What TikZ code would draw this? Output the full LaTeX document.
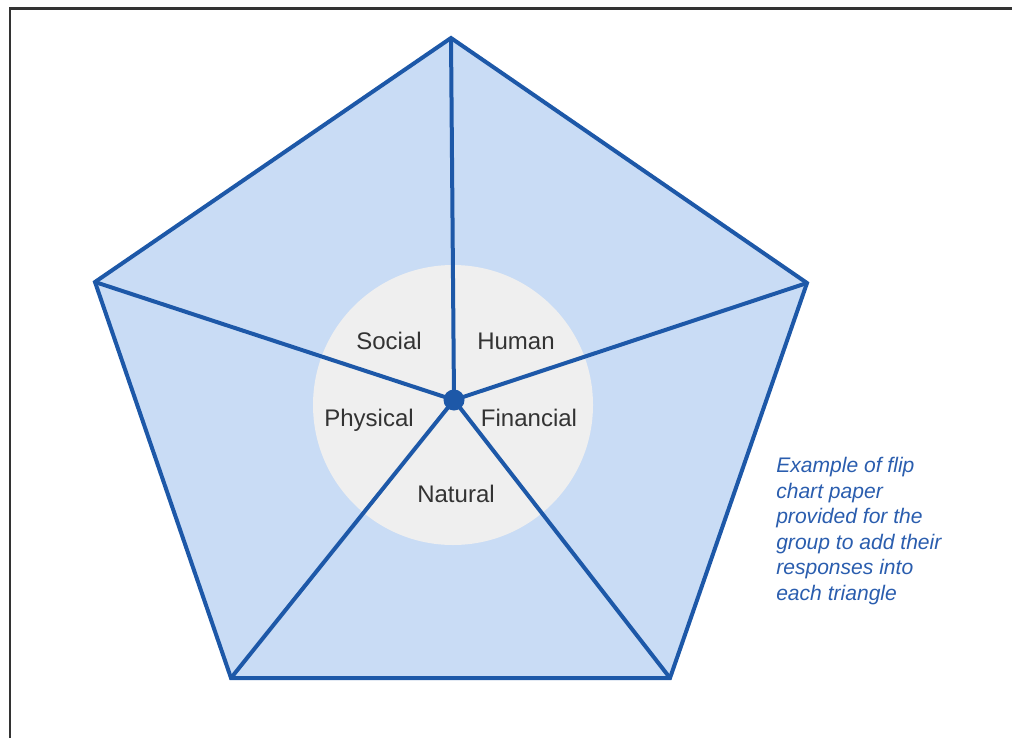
\documentclass[tikz,border=0pt]{standalone}
\usepackage{fontspec}
\setmainfont{Liberation Sans}
\definecolor{pfill}{HTML}{C9DCF5}
\definecolor{pline}{HTML}{1D58A8}
\definecolor{cfill}{HTML}{EFEFEF}
\definecolor{tdark}{HTML}{333333}
\definecolor{frame}{HTML}{333333}
\definecolor{note}{HTML}{2A5DAE}
\begin{document}
\begin{tikzpicture}[x=0.75pt,y=-0.75pt,
  edge/.style={draw=pline,line width=3pt,line join=miter},
  lab/.style={text=tdark,font=\fontsize{18}{20}\selectfont,inner sep=0pt},
  notetext/.style={text=note,font=\fontsize{15.8}{19.2}\selectfont\itshape,align=left,anchor=north west,inner sep=0pt}]
\useasboundingbox (0,0) rectangle (1012,738);
\draw[frame,line width=2.2pt] (10,738) -- (10,8.5) -- (1012,8.5);
\coordinate (T) at (451,38);
\coordinate (R) at (807,283);
\coordinate (BR) at (670,678);
\coordinate (BL) at (231,678);
\coordinate (L) at (95,282);
\coordinate (C) at (454,400);
\fill[pfill] (T) -- (R) -- (BR) -- (BL) -- (L) -- cycle;
\fill[cfill] (453,405) circle[radius=140];
\draw[edge] (T) -- (R) -- (BR) -- (BL) -- (L) -- cycle;
\draw[edge] (C) -- (T);
\draw[edge] (C) -- (R);
\draw[edge] (C) -- (BR);
\draw[edge] (C) -- (BL);
\draw[edge] (C) -- (L);
\fill[pline] (C) circle[radius=10.5];
\node[lab] (social) at (389,341) {Social};
\node[lab] (human) at (516,341) {Human};
\node[lab] (physical) at (369,420) {Physical};
\node[lab] (financial) at (529,418) {Financial};
\node[lab] (natural) at (456,494) {Natural};
\node[notetext] (note) at (776,457) {Example of flip\\chart paper\\provided for the\\group to add their\\responses into\\each triangle};
\end{tikzpicture}
\end{document}
